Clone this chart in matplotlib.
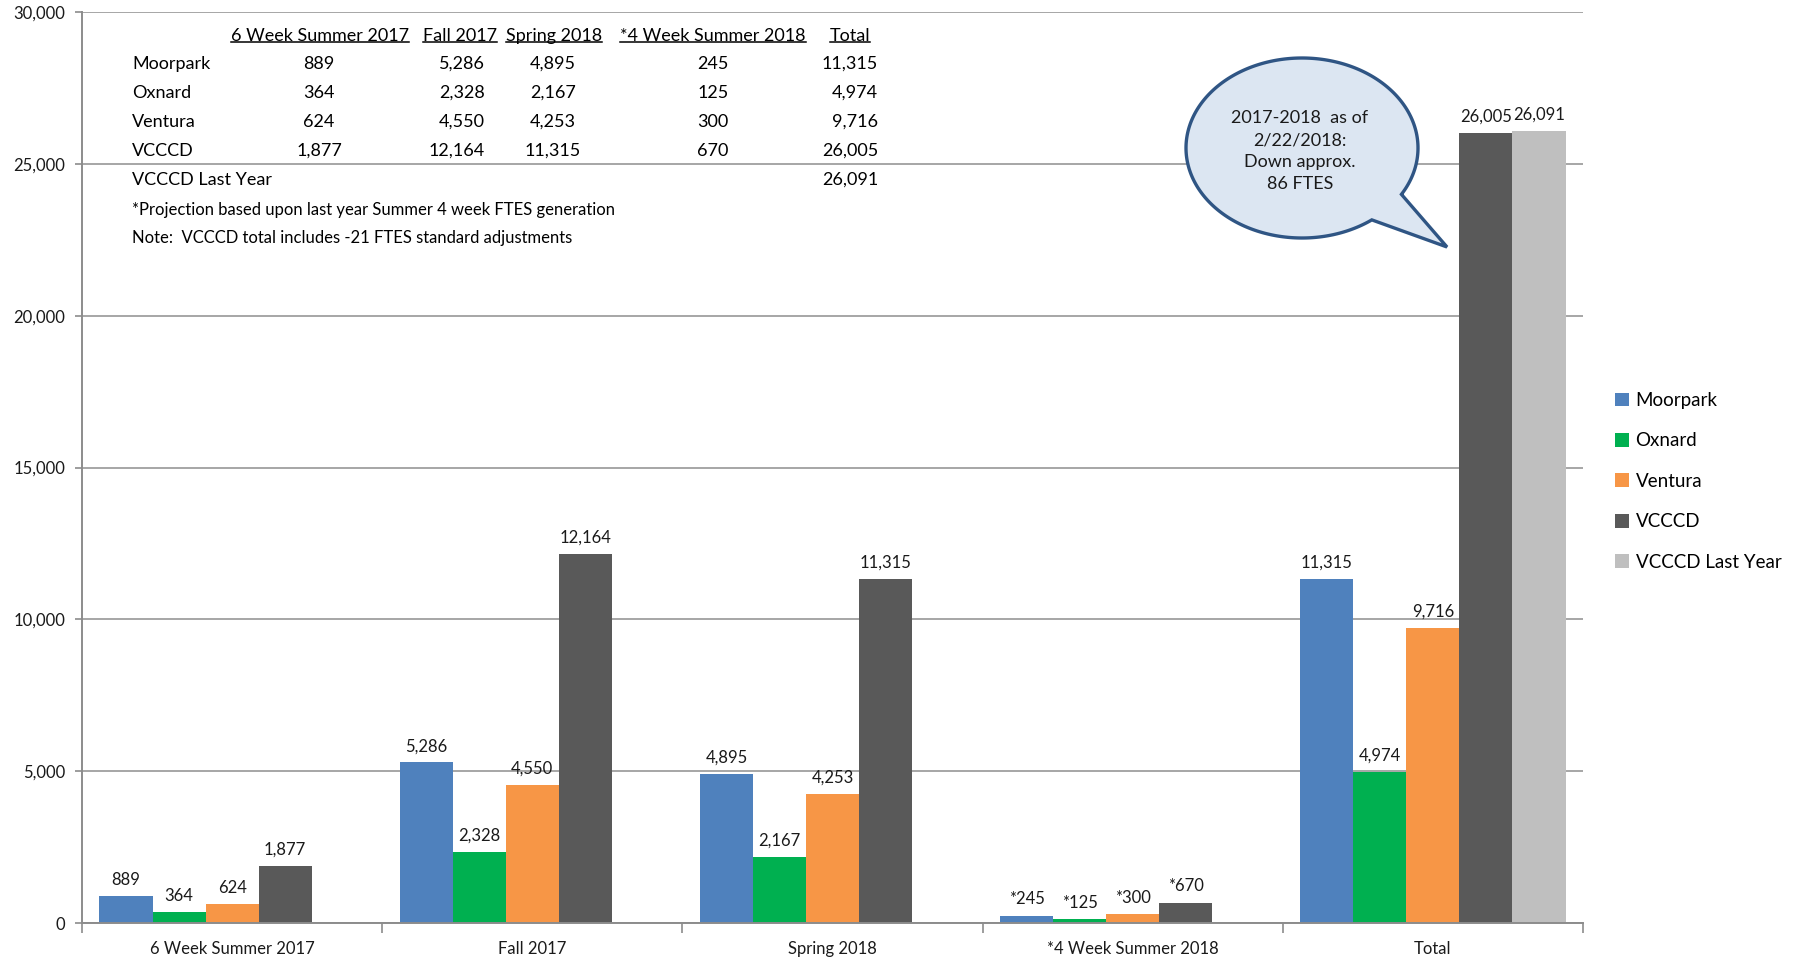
import numpy as np
import matplotlib.pyplot as plt
from matplotlib.patches import Polygon
from matplotlib.lines import Line2D
from matplotlib.ticker import FuncFormatter

plt.rcParams['font.family'] = ['Lato', 'DejaVu Sans']

W_PX, H_PX = 1797, 960

# data
categories = ["6 Week Summer 2017", "Fall 2017", "Spring 2018", "*4 Week Summer 2018", "Total"]
starred = [False, False, False, True, False]
moorpark = [889, 5286, 4895, 245, 11315]
oxnard = [364, 2328, 2167, 125, 4974]
ventura = [624, 4550, 4253, 300, 9716]
vcccd = [1877, 12164, 11315, 670, 26005]
last_year = [np.nan, np.nan, np.nan, np.nan, 26091]
series_names = ["Moorpark", "Oxnard", "Ventura", "VCCCD", "VCCCD Last Year"]
colors = ["#4F81BD", "#00B050", "#F79646", "#595959", "#BFBFBF"]

footnotes = ["*Projection based upon last year Summer 4 week FTES generation",
             "Note:  VCCCD total includes -21 FTES standard adjustments"]
callout_text = "2017-2018  as of\n2/22/2018:\nDown approx.\n86 FTES"


def fx(px):
    return px / W_PX


def fy(py):
    return 1 - py / H_PX


fig = plt.figure(figsize=(W_PX / 100, H_PX / 100), dpi=100)
ax = fig.add_axes([fx(82), fy(923), fx(1583) - fx(82), fy(12) - fy(923)])

bw = 0.1767
x = np.arange(len(categories))
all_series = [moorpark, oxnard, ventura, vcccd, last_year]
handles = []
for i, (vals, name, col) in enumerate(zip(all_series, series_names, colors)):
    pos = x + (i - 2) * bw
    b = ax.bar(pos, vals, bw, color=col, label=name, zorder=2)
    handles.append(b)
    for p, v, s in zip(pos, vals, starred):
        if np.isnan(v):
            continue
        ax.annotate(("*" if s else "") + f"{v:,.0f}", (p, v), xytext=(0, 6),
                    textcoords="offset points", ha="center", va="bottom",
                    fontsize=12, color="#1a1a1a")

# axes
ax.set_xlim(-0.5, 4.5)
ax.set_ylim(0, 30000)
ax.set_yticks(np.arange(0, 30001, 5000))
ax.yaxis.set_major_formatter(FuncFormatter(lambda v, _: f"{v:,.0f}"))
ax.tick_params(axis="y", length=5, width=1.2, color="#8c8c8c", pad=7,
               labelsize=12, labelcolor="#1a1a1a")
ax.set_xticks(np.arange(-0.5, 4.6, 1))
ax.set_xticklabels([])
ax.set_xticks(x, minor=True)
ax.set_xticklabels(categories, minor=True)
ax.tick_params(axis="x", which="major", length=7, width=1.2, color="#8c8c8c")
ax.tick_params(axis="x", which="minor", length=0, pad=13, labelsize=12,
               labelcolor="#1a1a1a")
ax.yaxis.grid(True, color="#a6a6a6", lw=1.4, zorder=0)
ax.set_axisbelow(True)
for side in ["top", "right"]:
    ax.spines[side].set_visible(False)
for side in ["left", "bottom"]:
    ax.spines[side].set_color("#8c8c8c")
    ax.spines[side].set_linewidth(1.4)

# legend
fig.legend(handles=handles, labels=series_names, loc="upper left",
           bbox_to_anchor=(fx(1615), fy(392)), frameon=False, fontsize=13.5,
           handlelength=0.75, handleheight=0.75, handletextpad=0.35,
           labelspacing=1.25, borderaxespad=0, borderpad=0)

# table in upper-left
tfs = 13
header_x = [320, 460, 554, 713, 850]
header_y = 36
headers = categories[:4] + ["Total"]
header_texts = [fig.text(fx(hx), fy(header_y), h, ha="center", va="center", fontsize=tfs)
                for hx, h in zip(header_x, headers)]

row_y = [64, 93, 122, 151, 180]
col_x = [319, 485, 553, 713, 878]
col_ha = ["center", "right", "center", "center", "right"]
rows = [("Moorpark", moorpark), ("Oxnard", oxnard), ("Ventura", ventura), ("VCCCD", vcccd)]
for ry, (name, vals) in zip(row_y, rows):
    fig.text(fx(132), fy(ry), name, ha="left", va="center", fontsize=tfs)
    for cx, ha, v in zip(col_x, col_ha, vals):
        fig.text(fx(cx), fy(ry), f"{v:,.0f}", ha=ha, va="center", fontsize=tfs)
fig.text(fx(132), fy(row_y[4]), "VCCCD Last Year", ha="left", va="center", fontsize=tfs)
fig.text(fx(col_x[4]), fy(row_y[4]), f"{last_year[4]:,.0f}", ha="right", va="center",
         fontsize=tfs)
for ny, note in zip([210, 238], footnotes):
    fig.text(fx(132), fy(ny), note, ha="left", va="center", fontsize=12)

# underline the table headers
fig.canvas.draw()
renderer = fig.canvas.get_renderer()
inv = fig.transFigure.inverted()
for t in header_texts:
    bb = t.get_window_extent(renderer)
    (x0, y0), (x1, _) = inv.transform([(bb.x0, bb.y0 + 2), (bb.x1, bb.y0 + 2)])
    fig.add_artist(Line2D([x0, x1], [y0, y0], transform=fig.transFigure,
                          color="black", lw=1.1))

# speech-bubble callout
cx, cy, rx, ry = 1302, 148, 116, 90
t = np.radians(np.linspace(53, 391, 300))
pts = [(cx + rx * np.cos(a), cy + ry * np.sin(a)) for a in t]
pts.append((1447, 247))
pts = [(fx(px), fy(py)) for px, py in pts]
fig.add_artist(Polygon(pts, closed=True, transform=fig.transFigure,
                       facecolor="#DCE6F2", edgecolor="#2F5584", lw=2.4))
fig.text(fx(1300), fy(151), callout_text, ha="center", va="center",
         fontsize=13, linespacing=1.45, color="#1a1a1a")

fig.savefig("out.png", dpi=100)
